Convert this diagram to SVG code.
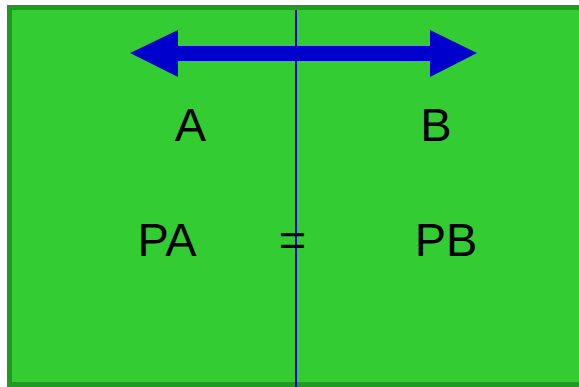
<svg xmlns="http://www.w3.org/2000/svg" width="579" height="387" viewBox="0 0 579 387">
<style>
.t{font-family:"Liberation Sans",Arial,sans-serif;font-size:47px;fill:#000;text-anchor:middle}
</style>
<rect x="0" y="0" width="579" height="387" fill="#fff"/>
<g id="box"><rect x="9.5" y="7.5" width="580" height="377" fill="#33cc33" stroke="#229922" stroke-width="5"/></g>
<g id="connectors">
<line x1="296" y1="10" x2="296" y2="387" stroke="#0000cc" stroke-width="2"/>
<polygon points="130,53 178,30 178,46 430,46 430,30 477,53 430,77 430,61 178,61 178,77" fill="#0000cc"/>
</g>
<g id="labelA"><text class="t" x="190.5" y="141">A</text></g>
<g id="labelB"><text class="t" x="436" y="141">B</text></g>
<g id="labelPA"><text class="t" x="167" y="256">PA</text></g>
<g id="labelEq"><text class="t" x="292.5" y="256">=</text></g>
<g id="labelPB"><text class="t" x="446" y="256">PB</text></g>
</svg>
